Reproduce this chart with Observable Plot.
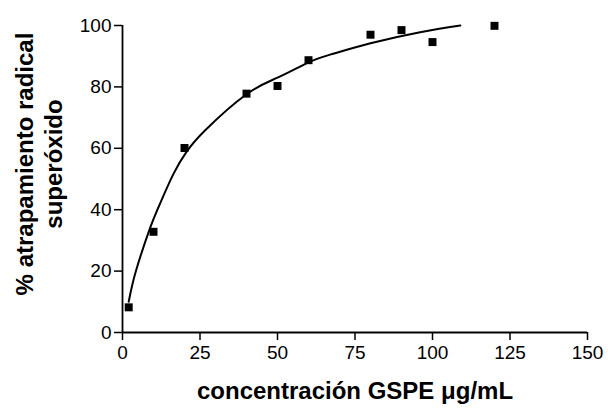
<!DOCTYPE html>
<html><head><meta charset="utf-8">
<script src="https://cdn.jsdelivr.net/npm/d3@7"></script>
<script src="https://cdn.jsdelivr.net/npm/@observablehq/plot@0.6"></script>
<style>body{margin:0;background:#fff}</style>
</head><body><div id="chart"></div>
<script>
const concentration = [2, 10, 20, 40, 50, 60, 80, 90, 100, 120];
const scavenging = [8.2, 32.8, 60.1, 77.8, 80.3, 88.7, 97.0, 98.5, 94.6, 99.9];
const fitX = [2, 4.4, 9, 11.6, 16.4, 20.7, 26.6, 40, 50, 60, 67, 80, 96, 109];
const fitY = [10, 20.3, 34.3, 40.8, 51.6, 58.9, 65.8, 77.6, 83, 88, 90.5, 94.2, 97.8, 100];
const xTicks = [0, 25, 50, 75, 100, 125, 150];
const yTicks = [0, 20, 40, 60, 80, 100];
const xTitle = "concentración GSPE μg/mL";
const yTitle1 = "% atrapamiento radical";
const yTitle2 = "superóxido";

const points = concentration.map((x, i) => ({x, y: scavenging[i]}));
const fit = fitX.map((x, i) => ({x, y: fitY[i]}));

const plot = Plot.plot({
  width: 608, height: 409,
  marginLeft: 122, marginRight: 21, marginTop: 25, marginBottom: 77,
  style: {fontFamily: "'Liberation Sans', Arial, sans-serif", fontSize: "19px", color: "#000", background: "#fff", overflow: "visible"},
  x: {domain: [0, 150]},
  y: {domain: [0, 100]},
  marks: [
    Plot.axisX(xTicks, {tickSize: 8, tickPadding: 5, label: null, strokeWidth: 1.5}),
    Plot.axisY(yTicks, {tickSize: 8, tickPadding: 3, label: null, strokeWidth: 1.5}),
    Plot.ruleY([0], {stroke: "#000", strokeWidth: 1.8}),
    Plot.ruleX([0], {stroke: "#000", strokeWidth: 1.8}),
    Plot.line(fit, {x: "x", y: "y", curve: "natural", strokeWidth: 2, stroke: "#000"}),
    Plot.dot(points, {x: "x", y: "y", symbol: "square", fill: "#000", r: 4.5}),
    Plot.text([xTitle], {text: d => d, frameAnchor: "bottom", dy: 66, fontWeight: "bold", fontSize: 24}),
    Plot.text([yTitle1], {text: d => d, frameAnchor: "left", textAnchor: "middle", rotate: -90, dx: -97, dy: -15, fontWeight: "bold", fontSize: 24}),
    Plot.text([yTitle2], {text: d => d, frameAnchor: "left", textAnchor: "middle", rotate: -90, dx: -68, dy: -15, fontWeight: "bold", fontSize: 24})
  ]
});
document.getElementById("chart").appendChild(plot);
</script>
</body></html>
